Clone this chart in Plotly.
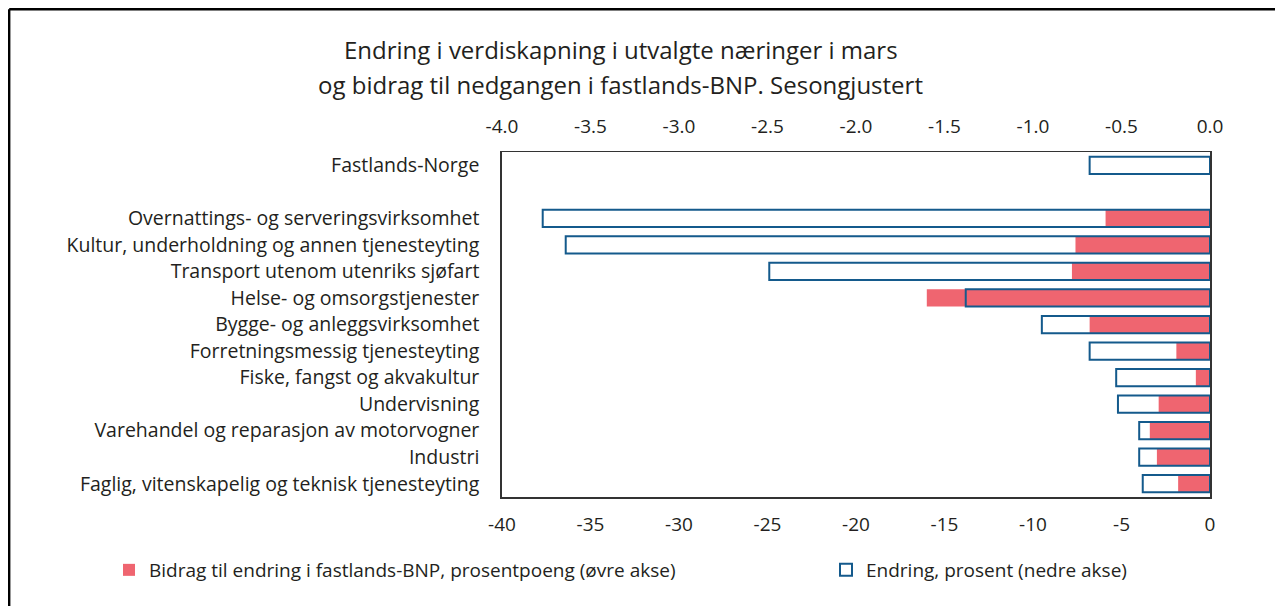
import plotly.graph_objects as go

categories = [
    "Fastlands-Norge",
    " ",
    "Overnattings- og serveringsvirksomhet",
    "Kultur, underholdning og annen tjenesteyting",
    "Transport utenom utenriks sjøfart",
    "Helse- og omsorgstjenester",
    "Bygge- og anleggsvirksomhet",
    "Forretningsmessig tjenesteyting",
    "Fiske, fangst og akvakultur",
    "Undervisning",
    "Varehandel og reparasjon av motorvogner",
    "Industri",
    "Faglig, vitenskapelig og teknisk tjenesteyting",
]
# Endring, prosent (nedre akse)
endring = [-6.8, None, -37.7, -36.4, -24.9, -13.8, -9.5, -6.8, -5.3, -5.2, -4.0, -4.0, -3.8]
# Bidrag til endring i fastlands-BNP, prosentpoeng (øvre akse)
bidrag = [None, None, -0.59, -0.76, -0.78, -1.60, -0.68, -0.19, -0.08, -0.29, -0.34, -0.30, -0.18]

top_ticks = [-4.0, -3.5, -3.0, -2.5, -2.0, -1.5, -1.0, -0.5, 0.0]
top_labels = ["-4.0", "-3.5", "-3.0", "-2.5", "-2.0", "-1.5", "-1.0", "-0.5", "0.0"]
bottom_ticks = [-40, -35, -30, -25, -20, -15, -10, -5, 0]
bottom_labels = ["-40", "-35", "-30", "-25", "-20", "-15", "-10", "-5", "0"]

title_lines = [
    "Endring i verdiskapning i utvalgte næringer i mars",
    "og bidrag til nedgangen i fastlands-BNP. Sesongjustert",
]

RED = "#EF6570"
BLUE = "#145A8C"
TXT = "#231F20"
FONT = "Open Sans"

OFF = 8  # page body margin
W, H = 1283 - OFF, 606 - OFF
# plot area in page coordinates
L, R, T, B = 502, 1210, 152, 497


def px(x):
    return (x - L) / (R - L)


def py(y):
    return (B - y) / (B - T)


fig = go.Figure()
fig.add_trace(go.Bar(
    y=categories, x=bidrag, orientation="h", xaxis="x", yaxis="y",
    width=0.65, marker=dict(color=RED, line=dict(width=0)),
    name="Bidrag til endring i fastlands-BNP, prosentpoeng (øvre akse)",
    legend="legend",
))
fig.add_trace(go.Bar(
    y=categories, x=endring, orientation="h", xaxis="x2", yaxis="y",
    width=0.65, marker=dict(color="rgba(255,255,255,0)", line=dict(color=BLUE, width=2)),
    name="Endring, prosent (nedre akse)",
    legend="legend2",
))

axis_font = dict(family=FONT, size=19, color=TXT)
label_font = dict(family=FONT, size=19.5, color=TXT)
legend_font = dict(family=FONT, size=19, color=TXT)
fig.update_layout(
    width=W, height=H,
    margin=dict(l=L - OFF, r=(W + OFF) - R, t=T - OFF, b=(H + OFF) - B, pad=0),
    paper_bgcolor="white", plot_bgcolor="white",
    font=dict(family=FONT, size=19, color=TXT),
    showlegend=True,
    xaxis=dict(
        side="top", range=[-4, 0], tickvals=top_ticks, ticktext=top_labels,
        showgrid=False, zeroline=False, showline=True, linecolor="#333", linewidth=1,
        ticks="", tickfont=axis_font, ticklabelstandoff=10, fixedrange=True,
    ),
    xaxis2=dict(
        overlaying="x", side="bottom", anchor="y", range=[-40, 0],
        tickvals=bottom_ticks, ticktext=bottom_labels,
        showgrid=False, zeroline=False, showline=True, linecolor="#333", linewidth=1.5,
        ticks="", tickfont=axis_font, ticklabelstandoff=9, fixedrange=True,
    ),
    yaxis=dict(
        type="category", categoryorder="array", categoryarray=categories,
        range=[len(categories) - 0.5, -0.5],
        showgrid=False, zeroline=False, showline=True, mirror=True,
        linecolor="#333", linewidth=1.5, ticks="", tickfont=label_font,
        ticklabelstandoff=17, fixedrange=True,
    ),
    legend=dict(
        orientation="h", x=px(109), y=py(570), xanchor="left", yanchor="middle",
        font=legend_font, itemwidth=30, bgcolor="rgba(0,0,0,0)",
    ),
    legend2=dict(
        orientation="h", x=px(826), y=py(570), xanchor="left", yanchor="middle",
        font=legend_font, itemwidth=30, bgcolor="rgba(0,0,0,0)",
    ),
    annotations=[
        dict(text=title_lines[0], x=px(621), y=py(50), xref="paper", yref="paper",
             xanchor="center", yanchor="middle", showarrow=False,
             font=dict(family=FONT, size=24, color=TXT)),
        dict(text=title_lines[1], x=px(620), y=py(84), xref="paper", yref="paper",
             xanchor="center", yanchor="middle", showarrow=False,
             font=dict(family=FONT, size=24, color=TXT)),
    ],
    shapes=[
        dict(type="line", xref="paper", yref="paper", x0=px(OFF + 1.2), x1=px(1300),
             y0=py(OFF + 1.2), y1=py(OFF + 1.2), line=dict(color="black", width=2.4)),
        dict(type="line", xref="paper", yref="paper", x0=px(OFF + 1.2), x1=px(OFF + 1.2),
             y0=py(OFF + 1.2), y1=py(620), line=dict(color="black", width=2.4)),
    ],
)

fig.write_html("out.html")
